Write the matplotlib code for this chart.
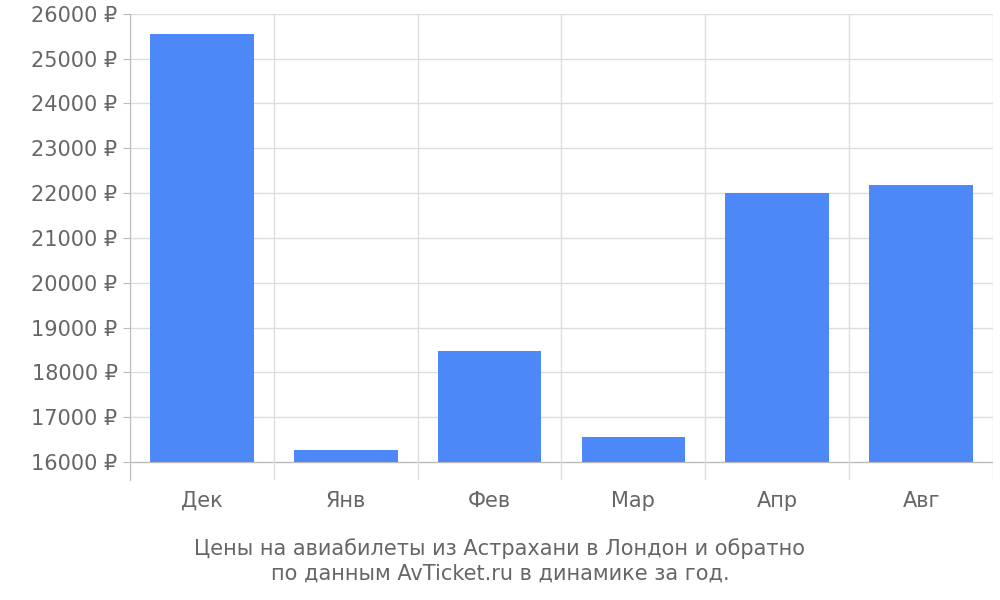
import matplotlib
matplotlib.use("Agg")
import matplotlib.pyplot as plt
import numpy as np

months = ["Дек", "Янв", "Фев", "Мар", "Апр", "Авг"]
prices = [25550, 16270, 18480, 16560, 22000, 22180]
yticks = list(range(16000, 26001, 1000))
title = "Цены на авиабилеты из Астрахани в Лондон и обратно\nпо данным AvTicket.ru в динамике за год."

fig = plt.figure(figsize=(10, 6), dpi=100)
ax = fig.add_axes([0.13, 0.2, 0.863, 0.777])
x = np.arange(len(months))
base = 16000
ax.bar(x, [p - base for p in prices], bottom=base, width=0.72, color="#4d88f9", zorder=3)
ax.set_xlim(-0.5, len(months) - 0.5)
ylo = base - 18 / 44.8 * 1000
ax.set_ylim(ylo, 26000)
ax.set_yticks(yticks)
ax.set_yticklabels([f"{v} ₽" for v in yticks], fontsize=15, color="#666666")
ax.set_xticks(x)
ax.set_xticklabels(months, fontsize=15, color="#666666")
for v in yticks:
    ax.axhline(v, color="#bbbbbb" if v == base else "#dddddd", lw=1, zorder=1)
for b in np.arange(-0.5, len(months), 1.0):
    ax.axvline(b, color="#dddddd", lw=1, zorder=1)
for s in ["top", "right", "bottom"]:
    ax.spines[s].set_visible(False)
ax.spines["left"].set_color("#bbbbbb")
ax.tick_params(axis="y", length=5, color="#bbbbbb", pad=4)
ax.tick_params(axis="x", length=0, pad=8)
fig.text(0.5, 0.065, title, ha="center", va="center", fontsize=15, color="#666666", linespacing=1.3)
fig.savefig("out.png")
